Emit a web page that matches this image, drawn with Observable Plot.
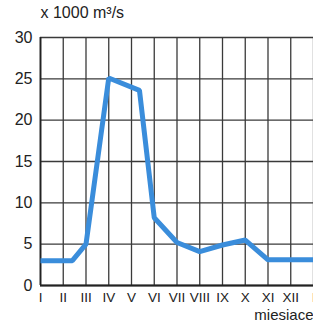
<!DOCTYPE html>
<html>
<head>
<meta charset="utf-8">
<script src="https://cdn.jsdelivr.net/npm/d3@7"></script>
<script src="https://cdn.jsdelivr.net/npm/@observablehq/plot@0.6"></script>
<style>
  html, body { margin: 0; padding: 0; background: #fff; }
  svg { display: block; }
</style>
</head>
<body>
<div id="chart"></div>
<script>
// Month tick labels (positions 0..12)
const monthLabels = ["I","II","III","IV","V","VI","VII","VIII","IX","X","XI","XII","I"];
const monthTicks = [0,1,2,3,4,5,6,7,8,9,10,11,12];
// Flow line (x in month index, y in thousand m3/s)
const linePos  = [0, 1.4, 2, 3, 4.35, 5, 6, 7, 8, 9, 10, 11, 12];
const lineFlow = [3, 3, 5, 25.1, 23.6, 8.2, 5.2, 4.1, 4.9, 5.5, 3.1, 3.1, 3.1];
const yTicks = [0,5,10,15,20,25,30];
const unitLabel = "x 1000 m³/s";
const xTitle = "miesiące";

const data = linePos.map((x, i) => ({x, y: lineFlow[i]}));

const chart = Plot.plot({
  width: 313,
  height: 320,
  marginLeft: 40,
  marginRight: 0,
  marginTop: 37,
  marginBottom: 35,
  style: {fontFamily: "'Liberation Sans', Arial, sans-serif", background: "#fff", color: "#222", overflow: "hidden"},
  x: {domain: [0, 12], axis: null, label: null},
  y: {domain: [0, 30], axis: null, label: null},
  marks: [
    Plot.ruleX(monthTicks, {stroke: "#3a3a3a", strokeWidth: 1.3}),
    Plot.ruleY(yTicks, {stroke: "#3a3a3a", strokeWidth: 1.3}),
    Plot.ruleX([0], {stroke: "#222", strokeWidth: 1.8}),
    Plot.ruleY([0], {stroke: "#222", strokeWidth: 1.8}),
    Plot.line(data, {x: "x", y: "y", stroke: "#3a8ddb", strokeWidth: 5, strokeLinejoin: "miter", strokeLinecap: "butt"}),
    Plot.axisY(yTicks, {tickSize: 0, tickPadding: 8, fontSize: 16, fill: "#222", label: null}),
    Plot.axisX(monthTicks, {tickSize: 0, tickPadding: 7, fontSize: 13.5, fill: "#222", label: null, tickFormat: i => monthLabels[i]}),
    Plot.text([unitLabel], {frameAnchor: "top-left", dx: 0, dy: -20, fontSize: 16, fill: "#222", textAnchor: "start", lineAnchor: "bottom"}),
    Plot.text([xTitle], {frameAnchor: "bottom-right", dx: 0, dy: 34, fontSize: 15, fill: "#222", textAnchor: "end", lineAnchor: "bottom"})
  ]
});
document.getElementById("chart").appendChild(chart);
</script>
</body>
</html>
